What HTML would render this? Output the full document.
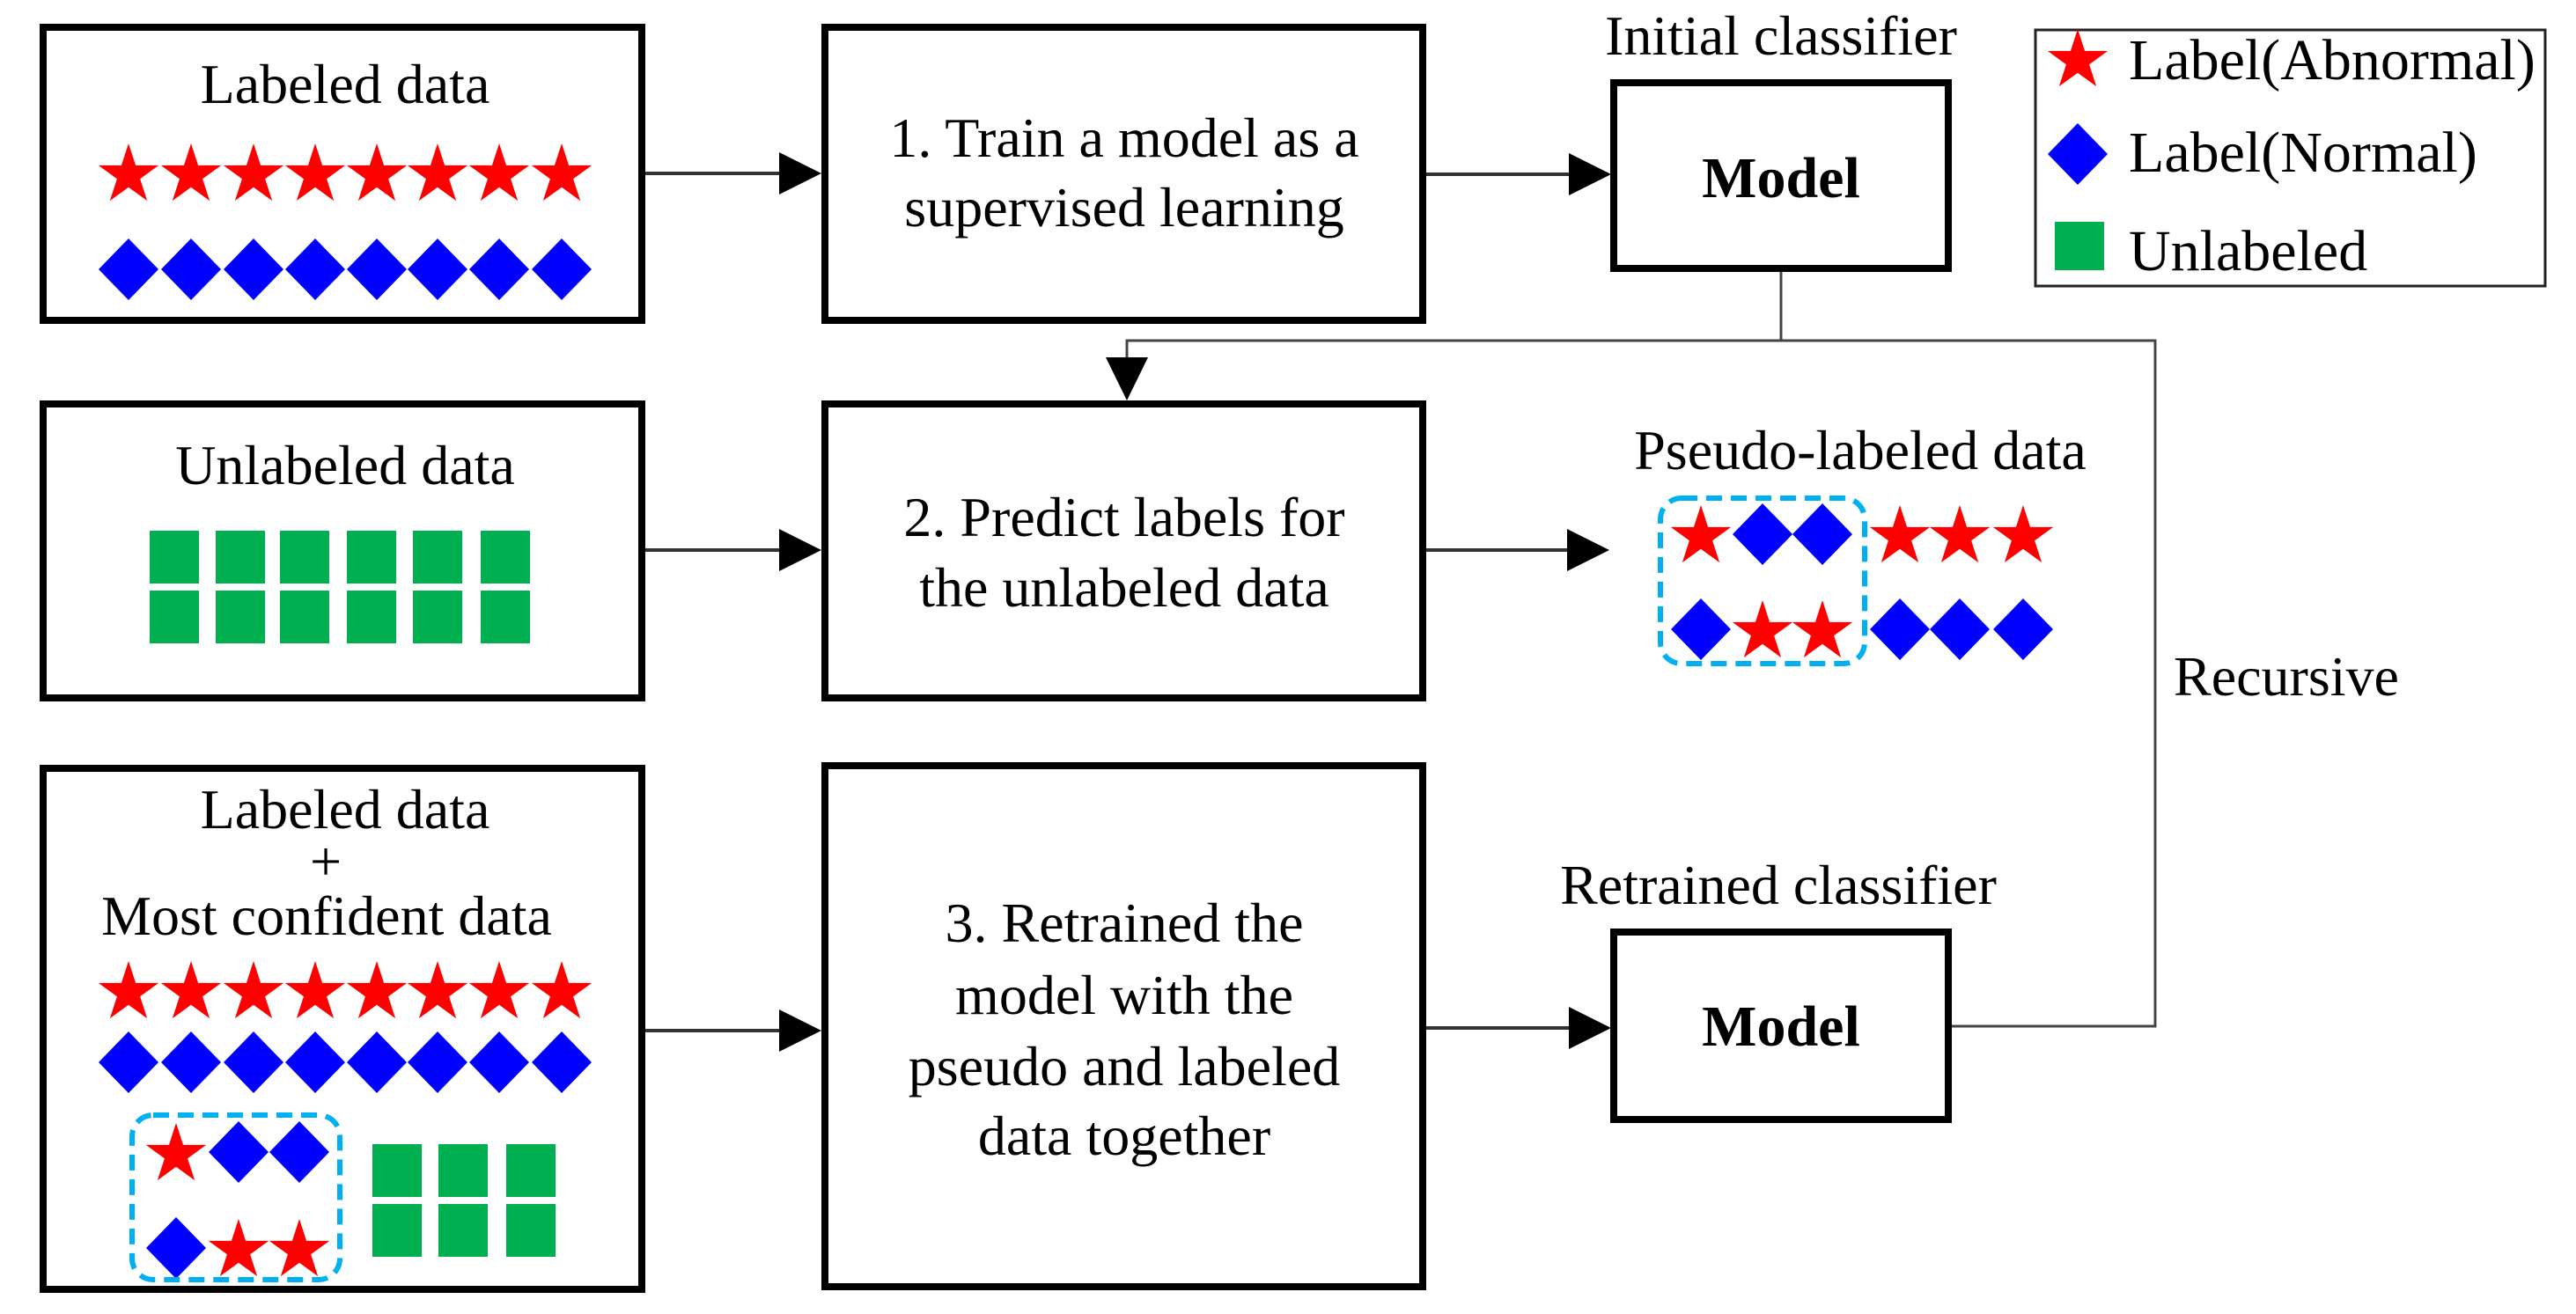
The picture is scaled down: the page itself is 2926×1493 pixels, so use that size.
<!DOCTYPE html>
<html><head><meta charset="utf-8"><style>html,body{margin:0;padding:0;background:#fff}svg{display:block}svg text{font-family:"Liberation Serif","Times New Roman",serif}</style></head><body>
<svg width="2926" height="1493" viewBox="0 0 2926 1493" xmlns="http://www.w3.org/2000/svg" fill="#000">
<defs>
<polygon id="st" points="0,-33 8.08,-8.12 34.24,-8.12 13.08,7.25 21.16,32.12 0,16.75 -21.16,32.12 -13.08,7.25 -34.24,-8.12 -8.08,-8.12" fill="#ff0000"/>
<polygon id="dm" points="0,-35 34,0 0,35 -34,0" fill="#0000ff"/>
<rect id="gr" x="0" y="0" width="56" height="60" fill="#00b050"/>
</defs>

<g fill="none" stroke="#000" stroke-width="8">
<rect x="49" y="31" width="680" height="333"/>
<rect x="937" y="31" width="679" height="333"/>
<rect x="1833" y="94" width="380" height="211"/>
<rect x="49" y="459" width="680" height="334"/>
<rect x="937" y="459" width="679" height="334"/>
<rect x="49" y="873" width="680" height="592"/>
<rect x="937" y="870" width="679" height="592"/>
<rect x="1833" y="1059" width="380" height="213"/>
</g>
<rect x="2312" y="34" width="579" height="291" fill="none" stroke="#222" stroke-width="3"/>

<g stroke="#333" stroke-width="4" fill="none">
<line x1="733" y1="197" x2="890" y2="197"/>
<line x1="1620" y1="198" x2="1786" y2="198"/>
<line x1="733" y1="625" x2="890" y2="625"/>
<line x1="1620" y1="625" x2="1784" y2="625"/>
<line x1="733" y1="1171" x2="890" y2="1171"/>
<line x1="1620" y1="1168" x2="1786" y2="1168"/>
</g>
<g stroke="#444" stroke-width="3" fill="none">
<line x1="2023" y1="309" x2="2023" y2="387"/>
<polyline points="1280,410 1280,387 2448,387 2448,1166 2217,1166"/>
</g>
<g fill="#000">
<polygon points="885,173 933,197 885,221"/>
<polygon points="1782,174 1830,198 1782,222"/>
<polygon points="885,601 933,625 885,649"/>
<polygon points="1780,601 1828,625 1780,649"/>
<polygon points="885,1147 933,1171 885,1195"/>
<polygon points="1782,1144 1830,1168 1782,1192"/>
<polygon points="1256,406 1304,406 1280,455"/>
</g>

<g font-size="64" text-anchor="middle">
<text x="392" y="117">Labeled data</text>
<text x="1277" y="178">1. Train a model as a</text>
<text x="1277" y="257">supervised learning</text>
<text x="2023" y="62">Initial classifier</text>
<text x="392" y="550">Unlabeled data</text>
<text x="1277" y="609">2. Predict labels for</text>
<text x="1277" y="689">the unlabeled data</text>
<text x="2113" y="533">Pseudo-labeled data</text>
<text x="392" y="941">Labeled data</text>
<text x="370" y="1000">+</text>
<text x="371" y="1062">Most confident data</text>
<text x="1277" y="1070">3. Retrained the</text>
<text x="1277" y="1152">model with the</text>
<text x="1277" y="1233">pseudo and labeled</text>
<text x="1277" y="1312">data together</text>
<text x="2020" y="1027">Retrained classifier</text>
<text x="2023" y="224" font-weight="bold" font-size="66">Model</text>
<text x="2023" y="1188" font-weight="bold" font-size="66">Model</text>
</g>
<text x="2469" y="790" font-size="64">Recursive</text>
<g font-size="66">
<text x="2418" y="90">Label(Abnormal)</text>
<text x="2418" y="195">Label(Normal)</text>
<text x="2418" y="307">Unlabeled</text>
</g>
<use href="#st" x="2360" y="66"/>
<use href="#dm" x="2360" y="175"/>
<rect x="2334" y="252" width="56" height="55" fill="#00b050"/>

<g>
<use href="#st" x="146" y="196"/><use href="#st" x="217" y="196"/><use href="#st" x="288" y="196"/><use href="#st" x="358" y="196"/><use href="#st" x="428" y="196"/><use href="#st" x="497" y="196"/><use href="#st" x="567" y="196"/><use href="#st" x="638" y="196"/>
<use href="#dm" x="146" y="306"/><use href="#dm" x="217" y="306"/><use href="#dm" x="288" y="306"/><use href="#dm" x="358" y="306"/><use href="#dm" x="428" y="306"/><use href="#dm" x="497" y="306"/><use href="#dm" x="567" y="306"/><use href="#dm" x="638" y="306"/>
</g>
<g>
<use href="#gr" x="170" y="603"/><use href="#gr" x="245" y="603"/><use href="#gr" x="318" y="603"/><use href="#gr" x="394" y="603"/><use href="#gr" x="469" y="603"/><use href="#gr" x="546" y="603"/>
<use href="#gr" x="170" y="671"/><use href="#gr" x="245" y="671"/><use href="#gr" x="318" y="671"/><use href="#gr" x="394" y="671"/><use href="#gr" x="469" y="671"/><use href="#gr" x="546" y="671"/>
</g>
<g>
<use href="#st" x="1932" y="607"/><use href="#dm" x="2002" y="607"/><use href="#dm" x="2070" y="607"/><use href="#st" x="2158" y="607"/><use href="#st" x="2226" y="607"/><use href="#st" x="2298" y="607"/>
<use href="#dm" x="1932" y="715"/><use href="#st" x="2002" y="715"/><use href="#st" x="2070" y="715"/><use href="#dm" x="2158" y="715"/><use href="#dm" x="2226" y="715"/><use href="#dm" x="2298" y="715"/>
</g>
<rect x="1886" y="566" width="232" height="188" rx="24" fill="none" stroke="#00b0f0" stroke-width="6" stroke-dasharray="18,10"/>
<g>
<use href="#st" x="146" y="1125"/><use href="#st" x="217" y="1125"/><use href="#st" x="288" y="1125"/><use href="#st" x="358" y="1125"/><use href="#st" x="428" y="1125"/><use href="#st" x="497" y="1125"/><use href="#st" x="567" y="1125"/><use href="#st" x="638" y="1125"/>
<use href="#dm" x="146" y="1207"/><use href="#dm" x="217" y="1207"/><use href="#dm" x="288" y="1207"/><use href="#dm" x="358" y="1207"/><use href="#dm" x="428" y="1207"/><use href="#dm" x="497" y="1207"/><use href="#dm" x="567" y="1207"/><use href="#dm" x="638" y="1207"/>
<use href="#st" x="200" y="1309"/><use href="#dm" x="271" y="1309"/><use href="#dm" x="340" y="1309"/>
<use href="#dm" x="200" y="1418"/><use href="#st" x="271" y="1418"/><use href="#st" x="340" y="1418"/>
<use href="#gr" x="423" y="1300"/><use href="#gr" x="498" y="1300"/><use href="#gr" x="575" y="1300"/>
<use href="#gr" x="423" y="1368"/><use href="#gr" x="498" y="1368"/><use href="#gr" x="575" y="1368"/>
</g>
<rect x="150" y="1267" width="236" height="187" rx="24" fill="none" stroke="#00b0f0" stroke-width="6" stroke-dasharray="18,10"/>
</svg>
</body></html>
